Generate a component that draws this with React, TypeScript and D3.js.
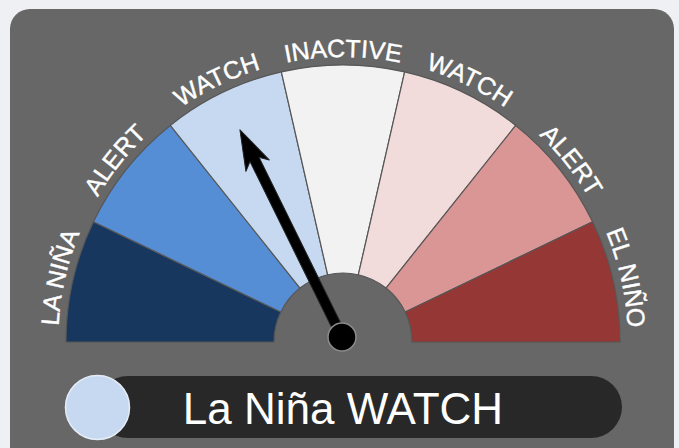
import React from 'react'
import * as d3 from 'd3'

// ENSO alert system dial
const categories = ['LA NIÑA', 'ALERT', 'WATCH', 'INACTIVE', 'WATCH', 'ALERT', 'EL NIÑO']
const segmentColors = ['#17375e', '#558ed5', '#c6d9f1', '#f2f2f2', '#f2dcdb', '#d99694', '#953735']
// needle position on the dial, in category units (0..7)
const needleValue = [2.48]
const statusText = ['La Niña WATCH']
const statusIndex = [2]

const width = 679
const height = 448
const cx = 343
const cy = 342
const outerR = 277
const innerR = 69
const labelR = 285

const App = () => {
  const angle = d3.scaleLinear().domain([0, categories.length]).range([-Math.PI / 2, Math.PI / 2])

  const arc = d3.arc<any>()
    .innerRadius(innerR)
    .outerRadius(outerR)
    .startAngle((d) => angle(d.i))
    .endAngle((d) => angle(d.i + 1))

  const segments = categories.map((c, i) => ({ c, i }))

  // one long arc used by every label, with overshoot on each side
  const pathStart = -Math.PI / 2 - 0.4
  const pathEnd = Math.PI / 2 + 0.4
  const lp = d3.path()
  lp.arc(0, 0, labelR, pathStart - Math.PI / 2, pathEnd - Math.PI / 2)
  const labelPath = lp.toString()

  const needleDeg = (angle(needleValue[0]) * 180) / Math.PI
  const L = 231
  const needle = d3.line()([
    [0, -L], [13, -L + 40], [5, -L + 33], [5, 0], [-5, 0], [-5, -L + 33], [-13, -L + 40]
  ] as [number, number][]) + 'Z'

  return (
    <svg width={width} height={height} style={{ position: 'absolute', left: 0, top: 0 }}>
      <rect x={0} y={0} width={width} height={height} fill="#eef0f3" />
      <rect x={10} y={9} width={664} height={470} rx={20} fill="#676767" />
      <defs>
        <path id="labelArc" d={labelPath} />
      </defs>
      <g transform={`translate(${cx},${cy})`}>
        {segments.map((d) => (
          <path key={d.i} d={arc(d) as string} fill={segmentColors[d.i]} stroke="#575757" strokeWidth={1.2} />
        ))}
        {segments.map((d) => (
          <text key={'t' + d.i} fill="#fff" stroke="#fff" strokeWidth={0.4}
            style={{ fontFamily: 'Liberation Sans, Arial, sans-serif', fontSize: 25 }}>
            <textPath href="#labelArc" startOffset={labelR * (angle(d.i + 0.5) - pathStart)} textAnchor="middle">
              {d.c}
            </textPath>
          </text>
        ))}
        <g transform={`translate(-1,-5) rotate(${needleDeg})`}>
          <path d={needle} fill="#000" stroke="#222" strokeWidth={1} strokeLinejoin="round" />
        </g>
        <circle cx={-1} cy={-5} r={14} fill="#000" stroke="#8a8a8a" strokeWidth={1.5} />
      </g>
      <rect x={97} y={376} width={525} height={62} rx={31} fill="#282828" />
      <circle cx={97.5} cy={407.5} r={32} fill="#c6d9f1" stroke="#e4ecf6" strokeWidth={1.5} />
      <text x={343} y={424} textAnchor="middle" fill="#fff"
        style={{ fontFamily: 'Liberation Sans, Arial, sans-serif', fontSize: 44 }}>
        {statusText[0]}
      </text>
    </svg>
  )
}

export default App
